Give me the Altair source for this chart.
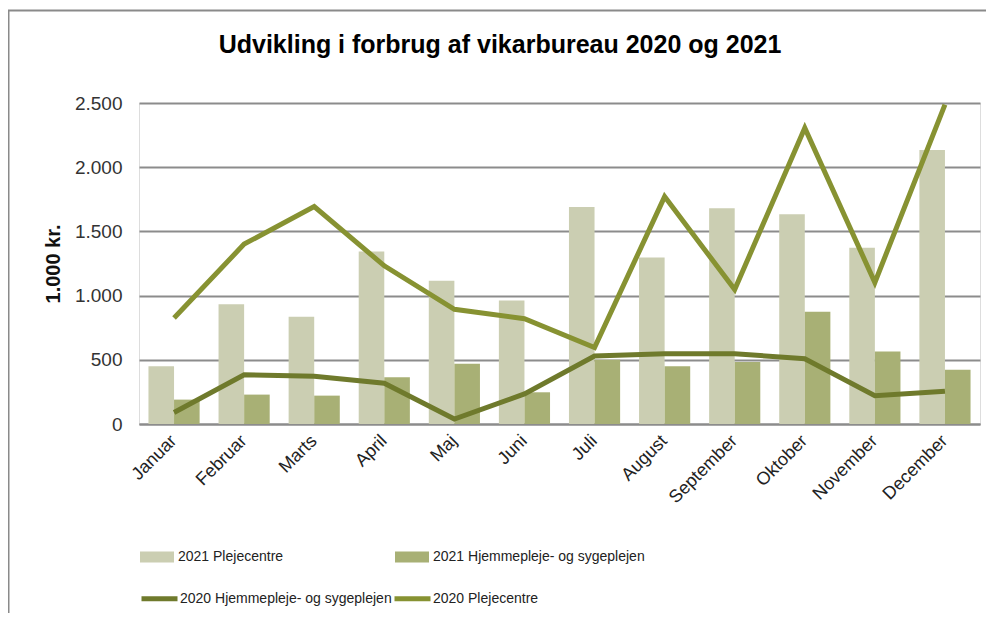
import altair as alt
import pandas as pd

months = ["Januar", "Februar", "Marts", "April", "Maj", "Juni", "Juli",
          "August", "September", "Oktober", "November", "December"]

pleje_2021 = [450, 932, 836, 1344, 1115, 961, 1690, 1297, 1680, 1633, 1372, 2133]
hjemme_2021 = [190, 229, 221, 365, 469, 247, 500, 450, 482, 875, 565, 422]
hjemme_2020 = [89, 383, 372, 318, 39, 234, 529, 547, 547, 508, 221, 255]
pleje_2020 = [826, 1401, 1693, 1232, 893, 820, 595, 1771, 1047, 2305, 1102, 2487]

bar_series = ["2021 Plejecentre", "2021 Hjemmepleje- og sygeplejen"]
line_series = ["2020 Hjemmepleje- og sygeplejen", "2020 Plejecentre"]
y_ticks = [0, 500, 1000, 1500, 2000, 2500]
title_text = "Udvikling i forbrug af vikarbureau 2020 og 2021"

bars_df = pd.DataFrame({
    "Måned": months * 2,
    "Serie2021": [bar_series[0]] * 12 + [bar_series[1]] * 12,
    "Værdi": pleje_2021 + hjemme_2021,
})
lines_df = pd.DataFrame({
    "Måned": months * 2,
    "Serie2020": [line_series[0]] * 12 + [line_series[1]] * 12,
    "Værdi": hjemme_2020 + pleje_2020,
})

FONT = "Liberation Sans"
GRID = "#8c8c8c"

x_enc = alt.X(
    "Måned:N", sort=months, title=None,
    scale=alt.Scale(paddingInner=0.27, paddingOuter=0.135),
    axis=alt.Axis(labelAngle=-45, labelFontSize=18, labelColor="#222",
                  labelFont=FONT, ticks=False, domainColor=GRID,
                  domainWidth=2, labelPadding=14, labelAlign="right",
                  labelBaseline="middle"),
)
y_enc = alt.Y(
    "Værdi:Q", title="1.000 kr.",
    scale=alt.Scale(domain=[0, 2500], nice=False),
    axis=alt.Axis(values=y_ticks, domain=False, ticks=False,
                  gridColor=GRID, gridWidth=2,
                  labelFontSize=19, labelColor="#333", labelFont=FONT,
                  labelPadding=17,
                  labelExpr="replace(format(datum.value, ','), ',', '.')",
                  titleFont=FONT, titleFontSize=20, titleFontWeight="bold",
                  titleColor="#111", titlePadding=11),
)

bars = alt.Chart(bars_df).mark_bar().encode(
    x=x_enc,
    xOffset=alt.XOffset("Serie2021:N", sort=bar_series,
                        scale=alt.Scale(paddingInner=0, paddingOuter=0)),
    y=y_enc,
    fill=alt.Fill(
        "Serie2021:N",
        scale=alt.Scale(domain=bar_series, range=["#cbceb2", "#a8b075"]),
        legend=alt.Legend(
            title=None, orient="none", legendX=1, legendY=437,
            direction="horizontal", columns=2, columnPadding=111,
            symbolType="M-1,-0.32L1,-0.32L1,0.32L-1,0.32Z", symbolSize=1156,
            symbolStrokeWidth=0, labelFontSize=14, labelFont=FONT,
            labelColor="#222", labelOffset=4, padding=0, labelLimit=400,
        ),
    ),
)

lines = alt.Chart(lines_df).mark_line(strokeWidth=5).encode(
    x=alt.X("Måned:N", sort=months),
    y=alt.Y("Værdi:Q"),
    stroke=alt.Stroke(
        "Serie2020:N",
        scale=alt.Scale(domain=line_series, range=["#6f7a2c", "#879232"]),
        legend=alt.Legend(
            title=None, orient="none", legendX=0, legendY=475,
            direction="horizontal", columns=2, columnPadding=-9,
            symbolType="stroke", symbolSize=1296, symbolStrokeWidth=5,
            labelFontSize=14, labelFont=FONT, labelColor="#222",
            labelOffset=0, padding=0, labelLimit=400,
        ),
    ),
    detail="Serie2020:N",
)

frame_df = pd.DataFrame({"k": [0]})
top_border = alt.Chart(frame_df).mark_rule(color="#8a8a8a", strokeWidth=2).encode(
    x=alt.value(-131), x2=alt.value(860), y=alt.value(-92.5))
left_border = alt.Chart(frame_df).mark_rule(color="#8a8a8a", strokeWidth=2).encode(
    x=alt.value(-130.5), y=alt.value(-93), y2=alt.value(520))
title = alt.Chart(frame_df).mark_text(
    text=title_text, font=FONT, fontSize=25, fontWeight="bold", color="#000",
    align="center", baseline="alphabetic",
).encode(x=alt.value(361), y=alt.value(-50))

chart = alt.layer(bars, lines, top_border, left_border, title).resolve_scale(
    fill="independent", stroke="independent"
).properties(
    width=841, height=321,
    autosize=alt.AutoSizeParams(type="none"),
    padding={"left": 131, "top": 95, "right": 6, "bottom": 189},
).configure_view(stroke=None).configure(background="white")

chart.save("out.html", embed_options={"renderer": "svg", "actions": False})
